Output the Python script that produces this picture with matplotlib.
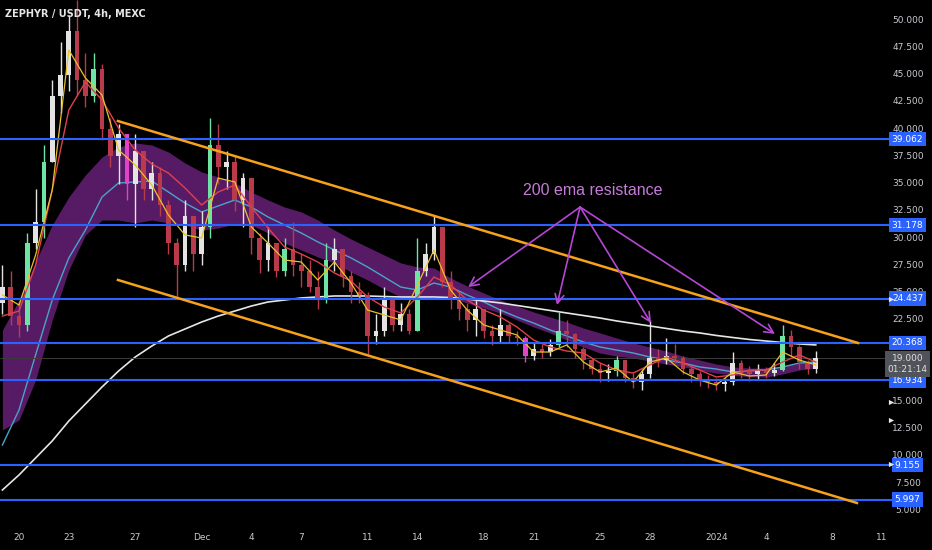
import matplotlib.pyplot as plt
import matplotlib.transforms as mtransforms

# 12h candles, day 0 = Nov 20
closes = [25.5, 22.8, 22.0, 29.5, 31.5, 37.0, 43.0, 45.0, 49.0, 44.5,
          43.0, 45.5, 40.0, 37.5, 39.5, 35.0, 38.0, 34.5, 36.0, 33.0,
          29.5, 27.5, 32.0, 28.5, 31.0, 38.5, 36.5, 37.0, 33.5, 35.5,
          30.0, 28.0, 29.5, 27.0, 29.0, 27.5, 27.0, 25.5, 24.5, 28.0,
          29.0, 26.5, 25.0, 24.8, 21.0, 21.5, 24.5, 22.0, 23.0, 21.5,
          27.0, 28.5, 31.0, 26.0, 24.5, 23.5, 22.5, 23.5, 21.5, 21.0,
          22.0, 21.0, 20.8, 19.2, 19.8, 19.5, 20.2, 21.5, 21.2, 19.8,
          18.8, 18.0, 17.6, 17.8, 18.8, 17.2, 16.8, 17.5, 19.0, 18.8,
          19.2, 19.0, 18.0, 17.5, 17.0, 16.8, 16.6, 16.8, 18.5, 17.8,
          17.5, 17.8, 17.6, 17.9, 21.0, 20.0, 18.6, 18.0, 19.0]
highs = [27.5, 27.0, 24.0, 30.5, 34.5, 38.5, 44.5, 48.0, 50.5, 51.8,
         47.0, 47.0, 46.0, 41.0, 40.5, 39.5, 39.5, 38.0, 37.0, 36.5,
         33.5, 30.0, 33.5, 32.0, 32.5, 41.0, 40.5, 38.0, 37.5, 36.0,
         35.5, 30.5, 31.0, 29.5, 30.0, 31.5, 28.5, 28.0, 27.0, 29.5,
         30.0, 29.0, 27.0, 26.0, 25.0, 23.0, 25.5, 24.5, 24.0, 23.5,
         30.0, 29.5, 32.0, 31.0, 27.0, 25.0, 24.0, 24.5, 23.5, 22.0,
         23.5, 22.2, 21.5, 21.0, 20.4, 20.3, 20.7, 23.2, 22.5, 21.3,
         20.0, 19.0, 18.5, 18.4, 19.2, 18.8, 17.6, 18.0, 22.5, 19.8,
         20.8, 20.3, 19.2, 18.3, 17.8, 17.4, 17.2, 17.2, 19.5, 18.8,
         18.3, 18.4, 18.2, 18.5, 22.0, 21.6, 20.2, 18.8, 19.6]
lows = [23.0, 22.0, 20.9, 21.5, 29.0, 30.0, 37.0, 41.5, 43.5, 43.0,
        42.0, 42.5, 39.0, 36.5, 35.0, 33.5, 31.0, 33.5, 33.5, 32.0,
        28.5, 24.6, 27.0, 27.0, 27.5, 30.0, 35.0, 34.5, 32.5, 31.0,
        28.5, 26.8, 27.0, 26.4, 26.5, 26.5, 25.5, 25.0, 23.5, 24.0,
        27.0, 25.5, 24.0, 24.0, 19.4, 20.3, 21.0, 21.5, 21.5, 21.2,
        21.5, 26.5, 28.0, 25.5, 23.5, 22.5, 21.5, 21.0, 20.8, 20.2,
        20.5, 20.5, 20.2, 18.6, 18.8, 19.0, 19.2, 20.0, 20.0, 19.0,
        18.0, 17.5, 16.8, 16.9, 17.3, 16.8, 16.2, 16.1, 17.2, 18.2,
        18.4, 18.5, 17.5, 16.8, 16.4, 16.2, 16.1, 16.0, 16.5, 17.2,
        16.9, 17.0, 17.2, 17.3, 17.8, 19.2, 18.0, 17.5, 17.6]
first_open = 24.0

# daily indicator readings, day -1 .. 48
ribbon_top = [21.56, 24.31, 27.80, 31.19, 33.76, 35.78, 37.43, 38.35, 38.72, 38.53,
              37.89, 36.88, 36.06, 35.60, 35.05, 34.22, 33.49, 32.84, 32.39, 31.65,
              30.73, 29.91, 29.17, 28.44, 27.71, 27.34, 27.25, 26.33, 25.60, 24.95,
              24.31, 23.76, 23.21, 22.75, 22.29, 21.74, 21.29, 20.83, 20.37, 20.00,
              19.63, 19.17, 18.81, 18.44, 18.17, 18.07, 18.07, 18.26, 18.53, 18.81]
ribbon_bottom = [12.39, 13.30, 16.97, 22.47, 27.07, 30.28, 31.65, 31.65, 31.38, 31.65,
                 31.38, 31.19, 30.73, 30.92, 31.29, 31.19, 30.46, 29.54, 28.90, 28.26,
                 27.71, 26.88, 26.15, 25.32, 24.59, 24.31, 24.59, 24.50, 24.04, 23.58,
                 23.12, 22.48, 21.84, 21.29, 20.64, 20.00, 19.45, 19.17, 18.99, 18.71,
                 18.44, 18.17, 17.89, 17.61, 17.43, 17.25, 17.25, 17.52, 17.89, 18.07]
ema_mid = [11.01, 14.22, 19.27, 24.31, 28.17, 30.73, 33.76, 35.05, 35.14, 35.23,
           34.22, 33.21, 32.39, 32.94, 33.49, 32.84, 31.93, 31.19, 30.46, 29.64,
           28.90, 28.17, 27.34, 26.42, 25.50, 25.23, 25.87, 25.50, 24.77, 24.13,
           23.39, 22.75, 22.20, 21.56, 21.01, 20.46, 20.00, 19.72, 19.45, 19.08,
           18.81, 18.53, 18.17, 17.98, 17.71, 17.80, 17.89, 18.17, 18.53, 18.62]
ema_200 = [6.88, 8.26, 9.82, 11.38, 13.21, 14.77, 16.33, 17.80, 19.08, 20.09,
           21.01, 21.65, 22.29, 22.84, 23.30, 23.76, 24.13, 24.31, 24.50, 24.59,
           24.68, 24.68, 24.68, 24.63, 24.59, 24.59, 24.59, 24.54, 24.40, 24.22,
           24.04, 23.81, 23.58, 23.35, 23.12, 22.89, 22.66, 22.39, 22.16, 21.93,
           21.70, 21.47, 21.29, 21.06, 20.87, 20.69, 20.55, 20.41, 20.28, 20.19]
ema_slow = [22.84, 23.30, 27.52, 34.40, 41.74, 44.31, 42.66, 40.09, 38.07, 36.79,
            35.96, 34.59, 33.03, 34.22, 34.86, 32.84, 30.92, 29.17, 28.53, 27.80,
            26.79, 26.06, 24.59, 23.67, 23.12, 24.59, 26.42, 25.69, 24.31, 23.39,
            22.75, 21.83, 20.64, 20.00, 19.63, 19.45, 18.53, 17.89, 17.61, 18.35,
            19.08, 18.53, 17.89, 17.25, 17.43, 17.89, 17.89, 18.62, 19.27, 18.62]
ema_fast = [24.77, 23.85, 28.44, 34.40, 47.25, 44.68, 43.12, 38.07, 36.70, 34.86,
            32.11, 30.28, 30.00, 35.50, 35.14, 31.01, 29.54, 27.98, 27.80, 26.15,
            27.80, 25.87, 23.39, 22.94, 22.48, 25.69, 28.90, 25.23, 23.39, 22.02,
            21.56, 21.10, 19.54, 19.54, 20.19, 18.62, 17.71, 18.07, 16.79, 18.62,
            18.99, 17.71, 16.97, 16.51, 17.71, 17.34, 17.43, 19.54, 18.81, 18.35]

levels = [39.062, 31.178, 24.437, 20.368, 16.934, 9.155, 5.997]
# 17.500 sits fully under the price boxes in the original
price_ticks = [50.0, 47.5, 45.0, 42.5, 40.0, 37.5, 35.0, 32.5, 30.0, 27.5,
               25.0, 22.5, 20.0, 15.0, 12.5, 10.0, 7.5, 5.0]
date_days = [0, 3, 7, 11, 14, 17, 21, 24, 28, 31, 35, 38, 42, 45, 49, 52]
date_labels = ['20', '23', '27', 'Dec', '4', '7', '11', '14', '18', '21',
               '25', '28', '2024', '4', '8', '11']

# channel drawn by hand (day, price)
upper_channel = ([5.96, 50.54], [40.73, 20.37])
lower_channel = ([5.96, 50.48], [26.15, 5.69])
note_apex = (33.8, 32.84)
note_targets = [(27.05, 25.5), (32.41, 23.85), (38.07, 22.2), (45.54, 21.2)]
last_price = 19.0

green_bars = [3, 5, 11, 25, 34, 39, 50, 67, 74, 94]
pink_bars = [15, 63]

candle_days = [-1 + 0.5 * i for i in range(len(closes))]
ind_days = list(range(-1, 49))
opens = [first_open] + closes[:-1]

fig = plt.figure(figsize=(9.32, 5.5), dpi=100, facecolor='black')
ax = fig.add_axes([0, 0, 1, 1])
ax.set_facecolor('black')
ax.set_xlim(-1.145, 55.0)
ax.set_ylim(1.376, 51.835)
ax.axis('off')

# ribbon + moving averages
ax.fill_between(ind_days, ribbon_bottom, ribbon_top, color='#611f72', alpha=0.9, lw=0, zorder=1)
ax.plot(ind_days, ema_mid, color='#4aa3c9', lw=1, zorder=2)
ax.plot(ind_days, ema_200, color='#e6e6e6', lw=1.2, zorder=2)

# candles
for i, d in enumerate(candle_days):
    o, c = opens[i], closes[i]
    if i in green_bars:
        col = '#6fe3a4'
    elif i in pink_bars:
        col = '#e043c8'
    elif c >= o:
        col = '#e3e3e3'
    else:
        col = '#b83a4b'
    ax.vlines(d, lows[i], highs[i], color=col, lw=1, zorder=3)
    ax.bar(d, max(abs(c - o), 0.15), bottom=min(o, c), width=0.28, color=col, lw=0, zorder=3)

ax.plot(ind_days, ema_slow, color='#e0404c', lw=1, zorder=4)
ax.plot(ind_days, ema_fast, color='#e8c22a', lw=0.9, zorder=4)

# horizontal levels
x_end = 52.65
for lv in levels:
    ax.hlines(lv, -1.145, x_end, color='#2962ff', lw=1.5, zorder=5)
ax.hlines(last_price, -1.145, x_end, color='#3c3c3c', lw=0.7, zorder=2)

# channel
ax.plot(*upper_channel, color='#f7a21b', lw=1.8, zorder=6)
ax.plot(*lower_channel, color='#f7a21b', lw=1.8, zorder=6)

# annotation
for t in note_targets:
    ax.annotate('', xy=t, xytext=note_apex,
                arrowprops=dict(arrowstyle='->', color='#b547d4', lw=1.2,
                                mutation_scale=16, shrinkA=0, shrinkB=0), zorder=7)
ax.text(34.58, 34.4, '200 ema resistance', color='#c57bd8', fontsize=11.5,
        family=['Liberation Sans', 'DejaVu Sans'], ha='center', va='center', zorder=7)

# price scale
tr = mtransforms.blended_transform_factory(ax.transAxes, ax.transData)
for p in price_ticks:
    ax.text(908 / 932, p, f'{p:.3f}', color='#c8cad0', fontsize=6.5,
            ha='center', va='center', transform=tr, zorder=8)
for lv in levels:
    ax.text(907.5 / 932, lv, f'{lv:.3f}', color='white', fontsize=6.5,
            ha='center', va='center', transform=tr, zorder=9,
            bbox=dict(boxstyle='square,pad=0.3', fc='#2962ff', ec='none'))
ax.text(907.5 / 932, 18.44, f'{last_price:.3f}\n01:21:14', color='#e0e0e0', fontsize=6.5,
        ha='center', va='center', transform=tr, zorder=9, linespacing=1.35,
        bbox=dict(boxstyle='square,pad=0.3', fc='#505359', ec='none'))
for p in [24.437, 14.95, 13.3, 9.3]:
    ax.scatter(891 / 932, p, marker='>', s=14, color='#e8e8e8', transform=tr, zorder=10, lw=0)

# date scale
trx = mtransforms.blended_transform_factory(ax.transData, ax.transAxes)
for d, lab in zip(date_days, date_labels):
    ax.text(d, 1 - 538 / 550, lab, color='#c8cad0', fontsize=6.5,
            ha='center', va='center', transform=trx)

fig.text(5 / 932, 1 - 14 / 550, 'ZEPHYR / USDT, 4h, MEXC', color='#e6e6e6',
         fontsize=7, fontweight='bold', ha='left', va='center')

fig.savefig('out.png', dpi=100, facecolor='black')
